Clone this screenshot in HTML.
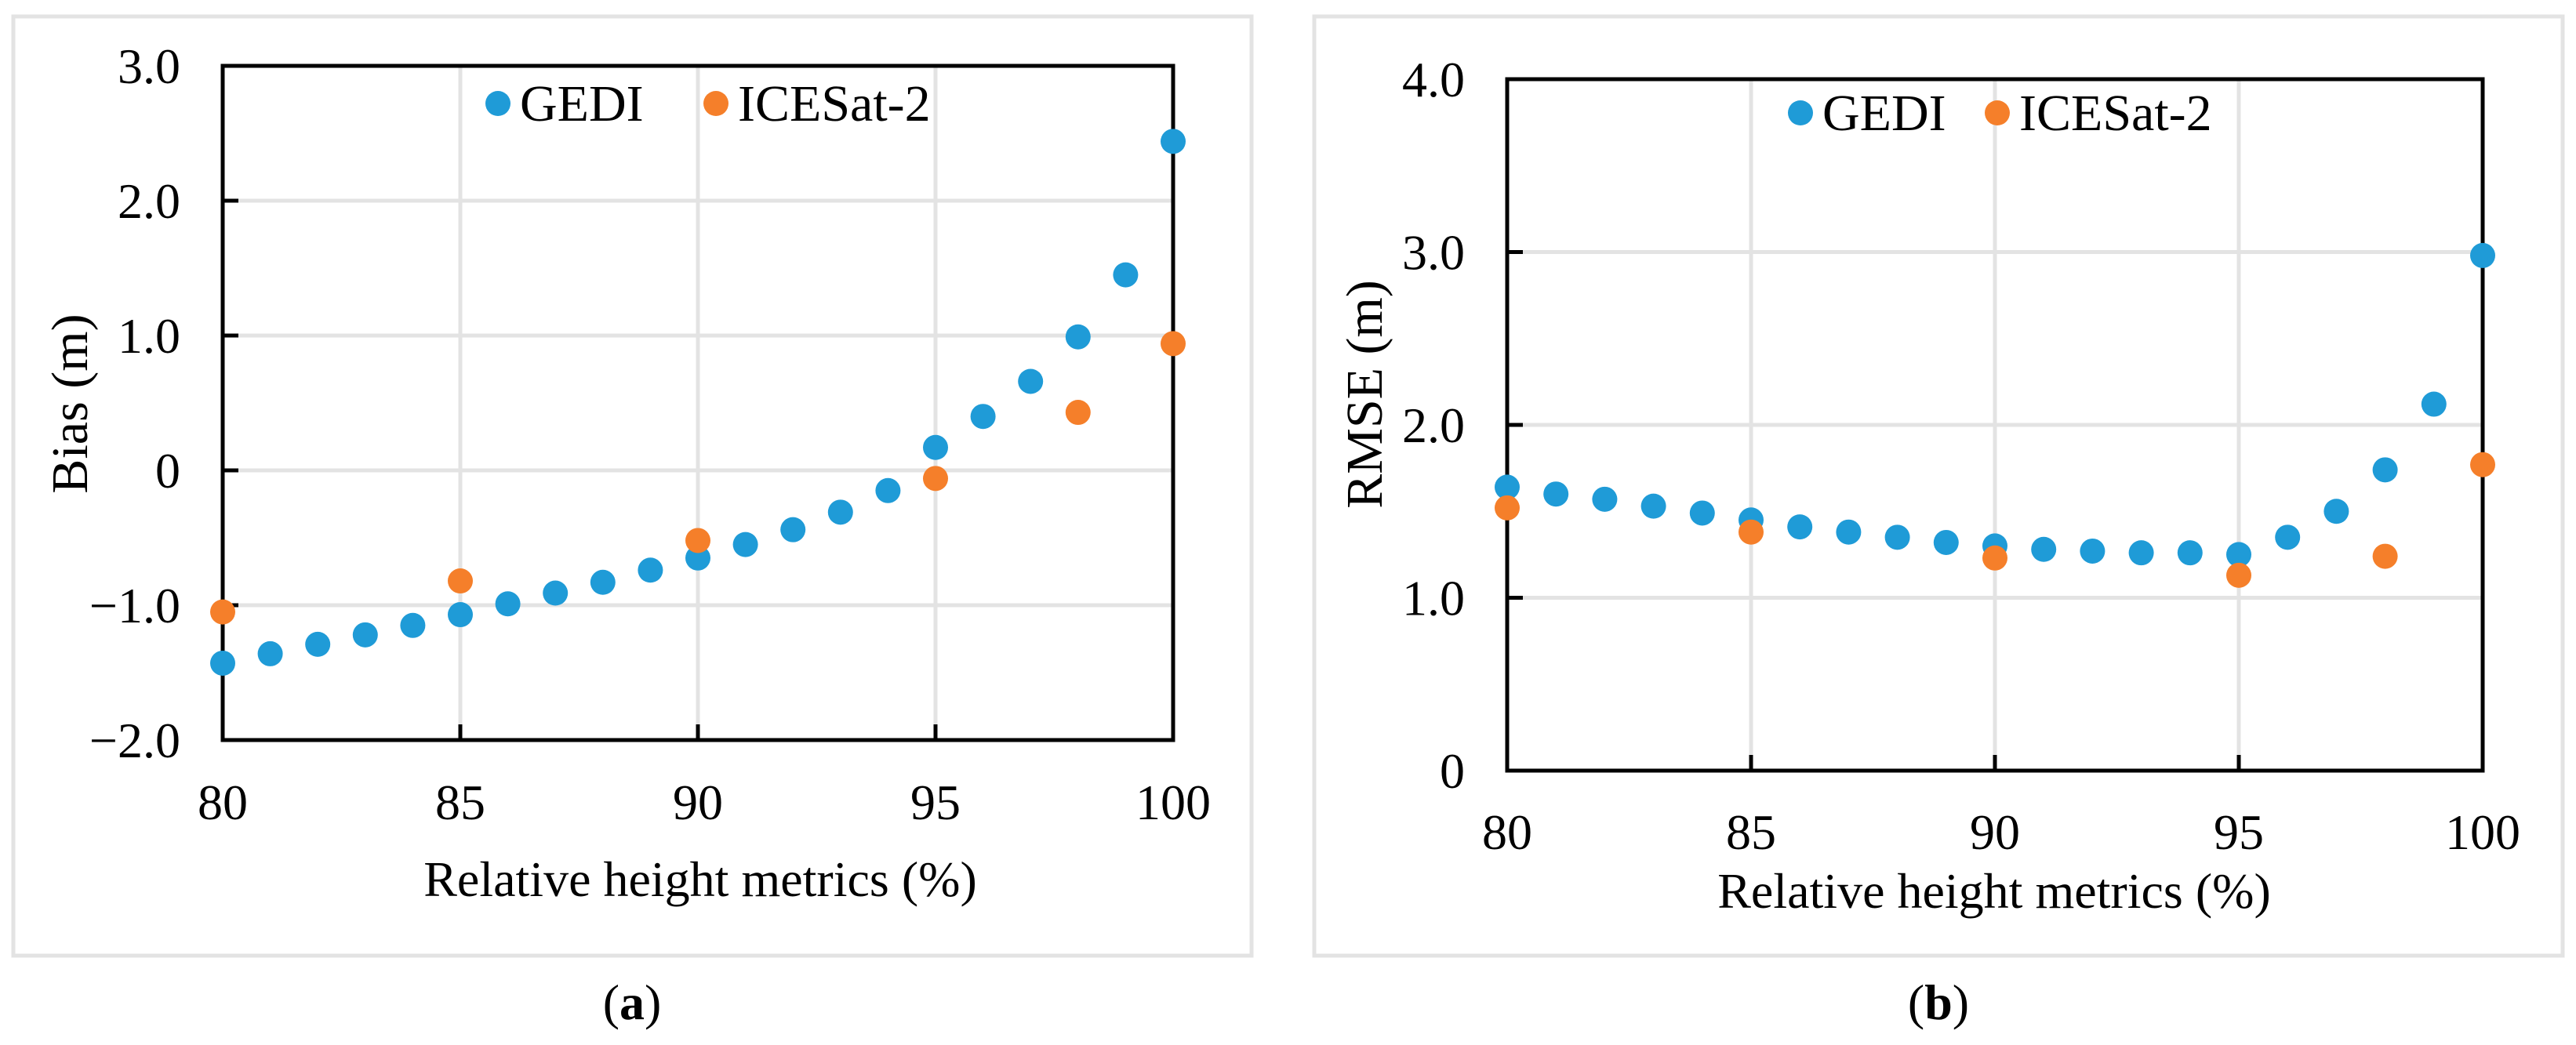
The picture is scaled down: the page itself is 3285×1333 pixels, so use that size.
<!DOCTYPE html>
<html><head><meta charset="utf-8"><style>
html,body{margin:0;padding:0;background:#fff}
svg text{font-family:"Liberation Serif","Times New Roman",serif !important;fill:#000}
</style></head><body>
<svg id="s" width="3285" height="1328" viewBox="0 0 3285 1328" xmlns="http://www.w3.org/2000/svg" font-family="Liberation Serif, serif">
<rect x="17" y="21" width="1579" height="1198" fill="none" stroke="#e3e3e3" stroke-width="5"/>
<rect x="1676" y="21" width="1592" height="1198" fill="none" stroke="#e3e3e3" stroke-width="5"/>
<text x="806" y="1300" font-size="64" text-anchor="middle">(<tspan font-weight="bold">a</tspan>)</text>
<text x="2472" y="1300" font-size="64" text-anchor="middle">(<tspan font-weight="bold">b</tspan>)</text>
</svg>
<script>
const xs = [80,81,82,83,84,85,86,87,88,89,90,91,92,93,94,95,96,97,98,99,100];
const xsIce = [80,85,90,95,98,100];
const biasGedi = [-1.43,-1.36,-1.29,-1.22,-1.15,-1.07,-0.99,-0.91,-0.83,-0.74,-0.65,-0.55,-0.44,-0.31,-0.15,0.17,0.40,0.66,0.99,1.45,2.44];
const biasIce = [-1.05,-0.82,-0.52,-0.06,0.43,0.94];
const rmseGedi = [1.64,1.60,1.57,1.53,1.49,1.45,1.41,1.38,1.35,1.32,1.30,1.28,1.27,1.26,1.26,1.25,1.35,1.50,1.74,2.12,2.98];
const rmseIce = [1.52,1.38,1.23,1.13,1.24,1.77];
const xTicks = [80,85,90,95,100];
const biasTicks = [-2,-1,0,1,2,3];
const biasTickLabels = ["\u22122.0","\u22121.0","0","1.0","2.0","3.0"];
const rmseTicks = [0,1,2,3,4];
const rmseTickLabels = ["0","1.0","2.0","3.0","4.0"];
const NS="http://www.w3.org/2000/svg";
const svg=document.getElementById('s');
function mk(tag,attrs,parent){const e=document.createElementNS(NS,tag);for(const k in attrs)e.setAttribute(k,attrs[k]);(parent||svg).appendChild(e);return e;}
function panel(p){
  const g=mk('g',{});
  
  
  const sx=v=>p.L+(v-80)/20*(p.R-p.L);
  const sy=v=>p.B-(v-p.ymin)/(p.ymax-p.ymin)*(p.B-p.T);
  p.yt.forEach((t,i)=>{
    const gl=mk('line',{x1:p.L,x2:p.R,y1:sy(t),y2:sy(t),stroke:'#e3e3e3','stroke-width':5},g);
    
    
    const tk=mk('line',{x1:p.L,x2:p.L+20,y1:sy(t),y2:sy(t),stroke:'#000','stroke-width':5},g);
    
    
    const tl=mk('text',{x:p.L-54,y:sy(t)+22,'font-size':64,'text-anchor':'end'},g);
    tl.textContent=p.ytl[i];
    
    
  });
  xTicks.forEach(t=>{
    const gl=mk('line',{x1:sx(t),x2:sx(t),y1:p.T,y2:p.B,stroke:'#e3e3e3','stroke-width':5},g);
    
    
    const tk=mk('line',{x1:sx(t),x2:sx(t),y1:p.B-20,y2:p.B,stroke:'#000','stroke-width':5},g);
    
    
    const tl=mk('text',{x:sx(t),y:p.xly,'font-size':64,'text-anchor':'middle'},g);
    tl.textContent=String(t);
    
    
  });
  const ax=mk('rect',{x:p.L,y:p.T,width:p.R-p.L,height:p.B-p.T,fill:'none',stroke:'#000','stroke-width':5},g);
  
  
  xs.forEach((x,i)=>{
    const c=mk('circle',{cx:sx(x),cy:sy(p.g[i]),r:16,fill:'#1f9bd7'},g);
    
    
  });
  xsIce.forEach((x,i)=>{
    const c=mk('circle',{cx:sx(x),cy:sy(p.ic[i]),r:16,fill:'#f57f2a'},g);
    
    
  });
  const yt=mk('text',{x:0,y:0,'font-size':66,'text-anchor':'middle',transform:`translate(${p.ytx+22},${p.yty}) rotate(-90)`},g);
  yt.textContent=p.ytitle;
  
  
  const xt=mk('text',{x:p.xtx,y:p.xty,'font-size':64,'text-anchor':'middle'},g);
  xt.textContent='Relative height metrics (%)';
  
  
  const l1=mk('circle',{cx:p.lx,cy:p.ly,r:16,fill:'#1f9bd7'},g);
  
  
  const t1=mk('text',{x:p.lx+28,y:p.ly+22,'font-size':66},g);
  t1.textContent='GEDI';
  
  
  const l2=mk('circle',{cx:p.lx+p.ld,cy:p.ly,r:16,fill:'#f57f2a'},g);
  
  
  const t2=mk('text',{x:p.lx+p.ld+28,y:p.ly+22,'font-size':66},g);
  t2.textContent='ICESat-2';
  
  
}
panel({name:'bias-chart',L:284,R:1496,T:84,B:944,ymin:-2,ymax:3,yt:biasTicks,ytl:biasTickLabels,g:biasGedi,ic:biasIce,ytitle:'Bias (m)',ytx:89,yty:515,xly:1045,xtx:893,xty:1143,lx:635,ly:132,ld:278});
panel({name:'rmse-chart',L:1922,R:3166,T:101,B:983,ymin:0,ymax:4,yt:rmseTicks,ytl:rmseTickLabels,g:rmseGedi,ic:rmseIce,ytitle:'RMSE (m)',ytx:1740,yty:503,xly:1083,xtx:2543,xty:1158,lx:2296,ly:144,ld:251});
</script>
</body></html>
